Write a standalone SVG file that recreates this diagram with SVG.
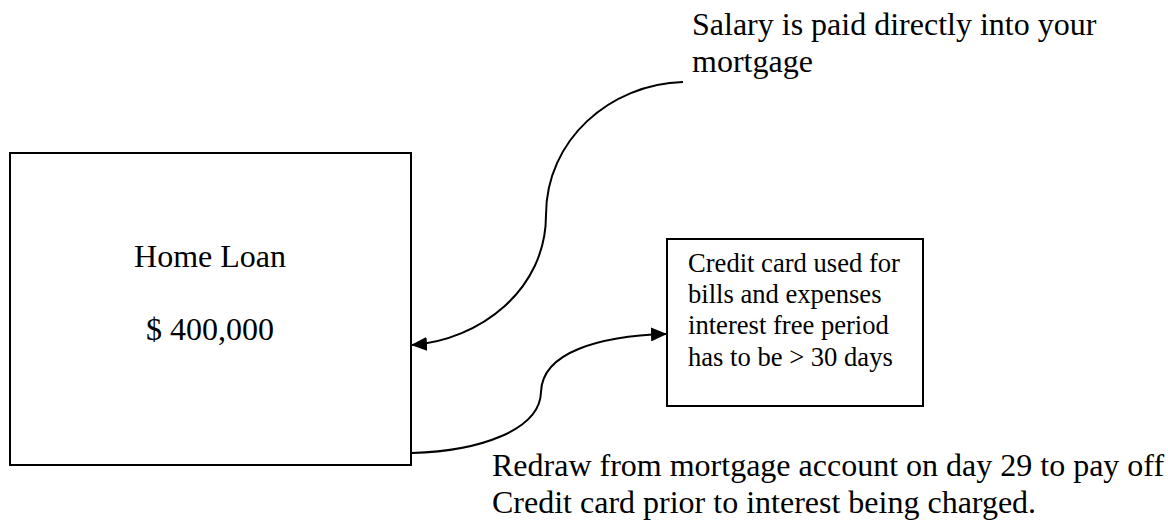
<svg xmlns="http://www.w3.org/2000/svg" width="1168" height="520" viewBox="0 0 1168 520">
<style>
.box{fill:#fff;stroke:#000;stroke-width:2}
.t{font-family:"Liberation Serif","Times New Roman",serif;fill:#000}
.big{font-size:32px}
.small{font-size:26.6px}
.conn{fill:none;stroke:#000;stroke-width:2}
</style>
<defs>
<marker id="arr" viewBox="0 0 16 14" refX="15" refY="7" markerWidth="16" markerHeight="14" markerUnits="userSpaceOnUse" orient="auto">
<path d="M0,0 L16,7 L0,14 Z" fill="#000"/>
</marker>
</defs>
<rect width="1168" height="520" fill="#fff"/>
<g id="home-loan">
<rect class="box" x="10" y="153" width="401" height="312"/>
<text class="t big" x="210" y="267" text-anchor="middle">Home Loan</text>
<text class="t big" x="210" y="340" text-anchor="middle">$ 400,000</text>
</g>
<g id="credit-card">
<rect class="box" x="667" y="239" width="256" height="167"/>
<text class="t small" x="688" y="272">Credit card used for</text>
<text class="t small" x="688" y="303">bills and expenses</text>
<text class="t small" x="688" y="334">interest free period</text>
<text class="t small" x="688" y="366">has to be &gt; 30 days</text>
</g>
<g id="salary-label">
<text class="t big" x="692" y="35">Salary is paid directly into your</text>
<text class="t big" x="692" y="72">mortgage</text>
</g>
<g id="redraw-label">
<text class="t big" x="492" y="476">Redraw from mortgage account on day 29 to pay off</text>
<text class="t big" x="492" y="513">Credit card prior to interest being charged.</text>
</g>
<g id="connectors">
<path class="conn" d="M683,82 C610,84 546,140 546,215 C546,290 480,340 412,345" marker-end="url(#arr)"/>
<path class="conn" d="M412,453 C480,451 540,430 541,392 C542,352 600,336 666,334" marker-end="url(#arr)"/>
</g>
</svg>
